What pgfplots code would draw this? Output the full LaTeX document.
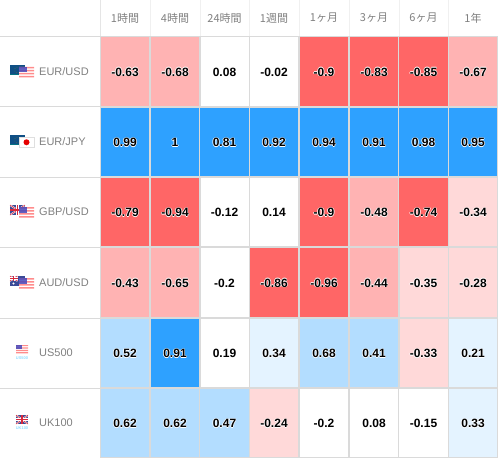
\documentclass[border=0pt]{standalone}
\usepackage{pgfplots}
\pgfplotsset{compat=1.18}
\usepackage{pgfplotstable}
\usepackage{fontspec}
\setmainfont{Liberation Sans}
\newfontfamily\cjk{Noto Sans CJK JP}
\definecolor{cdb}{HTML}{2EA1FF}
\definecolor{clb}{HTML}{B3DDFF}
\definecolor{cvb}{HTML}{E4F3FF}
\definecolor{cdr}{HTML}{FF6666}
\definecolor{clr}{HTML}{FFB3B3}
\definecolor{cvr}{HTML}{FFD9D9}
\definecolor{grid}{HTML}{DADADA}
\definecolor{lab}{HTML}{808080}
\definecolor{eub}{HTML}{0F4F85}
\definecolor{ukb}{HTML}{3A4A96}
\definecolor{ukr}{HTML}{D8283C}
\definecolor{tiny}{HTML}{8FDCFF}
\newcommand\halotext[1]{%
 \makebox[0pt]{\makebox[0pt]{\raisebox{0.7pt}{\color{white}#1}}\makebox[0pt]{\raisebox{-0.7pt}{\color{white}#1}}%
 \hspace{0.7pt}\makebox[0pt]{\color{white}#1}\hspace{-1.4pt}\makebox[0pt]{\color{white}#1}\hspace{0.7pt}%
 \makebox[0pt]{\color{black}#1}}}
\pgfdeclareplotmark{cell}{%
 \pgfpathrectangle{\pgfqpoint{-24.9bp}{-35bp}}{\pgfqpoint{49.8bp}{70bp}}%
 \pgfusepathqfillstroke}
\pgfplotsset{cellplot/.style={
 only marks, mark=cell, draw=grid, fill=#1, mark options={draw=grid,fill=#1,line width=1.2pt},
 point meta=explicit symbolic,
 nodes near coords={\halotext{\fontsize{12bp}{14bp}\selectfont\bfseries\pgfplotspointmeta}},
 nodes near coords align={center},
 every node near coord/.append style={inner sep=0pt,anchor=center,yshift=-0.6bp},
}}
\pgfplotstableread{
x y v
125 71.5 -0.63
175 71.5 -0.68
473 71.5 -0.67
374 212 -0.48
125 282.5 -0.43
175 282.5 -0.65
374 282.5 -0.44
}\lightred
\pgfplotstableread{
x y v
324 71.5 -0.9
374 71.5 -0.83
423.5 71.5 -0.85
125 212 -0.79
175 212 -0.94
324 212 -0.9
423.5 212 -0.74
274 282.5 -0.86
324 282.5 -0.96
}\darkred
\pgfplotstableread{
x y v
473 212 -0.34
423.5 282.5 -0.35
473 282.5 -0.28
423.5 353 -0.33
274 423 -0.24
}\paleblush
\pgfplotstableread{
x y v
125 142 0.99
175 142 1
224.5 142 0.81
274 142 0.92
324 142 0.94
374 142 0.91
423.5 142 0.98
473 142 0.95
175 353 0.91
}\darkblue
\pgfplotstableread{
x y v
125 353 0.52
324 353 0.68
374 353 0.41
125 423 0.62
175 423 0.62
224.5 423 0.47
}\lightblue
\pgfplotstableread{
x y v
274 353 0.34
473 353 0.21
473 423 0.33
}\paleblue
\pgfplotstableread{
x y v
224.5 71.5 0.08
274 71.5 -0.02
224.5 212 -0.12
274 212 0.14
224.5 282.5 -0.2
224.5 353 0.19
324 423 -0.2
374 423 0.08
423.5 423 -0.15
}\whitecells
% flags, drawn in local pixels
\newcommand\flagEU{%
 \fill[eub] (0,0) rectangle (15,10);
 \fill[teal!70!eub] (0,9) rectangle (15,10);
 \draw[olive!70!eub,line width=0.6pt,dotted] (7.5,5) circle (3);}
\newcommand\flagUS{%
 \fill[white] (0,0) rectangle (15,10.5);
 \fill[red!45!white] (0,0) rectangle (15,1.5) (0,3) rectangle (15,4.5) (0,6) rectangle (15,7.5) (0,9) rectangle (15,10.5);
 \fill[blue!45!gray,opacity=.85] (0,0) rectangle (7.5,5.5);}
\newcommand\flagJP{%
 \fill[white] (0,0) rectangle (15,10.5);
 \draw[gray!25,line width=0.5pt] (0,0) rectangle (15,10.5);
 \fill[red!90!black] (7.5,5.25) circle (3);}
\newcommand\flagUK[2]{%
 \fill[ukb] (0,0) rectangle (#1,#2);
 \draw[white,line width=1.6pt] (0,0)--(#1,#2) (0,#2)--(#1,0);
 \draw[ukr,line width=0.6pt] (0,0)--(#1,#2) (0,#2)--(#1,0);
 \draw[white,line width=2.4pt] (#1/2,0)--(#1/2,#2) (0,#2/2)--(#1,#2/2);
 \draw[ukr,line width=1.3pt] (#1/2,0)--(#1/2,#2) (0,#2/2)--(#1,#2/2);}
\newcommand\flagAU{%
 \fill[ukb] (0,0) rectangle (15,10);
 \flagUK{7.5}{5}
 \fill[white] (3.5,7.5) circle (1.1) (11,3) circle (.7) (12.5,6) circle (.7) (10,8) circle (.7);}
\newcommand\flagat[3]{\begin{scope}[shift={(axis cs:#1,#2)},x=1bp,y=-1bp]#3\end{scope}}
\newcommand\headcell[2]{\node[text=lab,inner sep=0pt,font=\cjk\fontsize{11bp}{13bp}\selectfont] at (axis cs:#1,18) {#2};}
\newcommand\rowlab[2]{\node[text=lab,anchor=west,inner sep=0pt,font=\fontsize{11bp}{13bp}\selectfont] at (axis cs:39,#1) {#2};}
\newcommand\tinylab[2]{\node[text=tiny,inner sep=0pt,font=\bfseries\fontsize{4bp}{5bp}\selectfont] at (axis cs:22,#1) {#2};}
\begin{document}
\begin{tikzpicture}
\begin{axis}[
 scale only axis, width=498bp, height=458bp,
 xmin=0, xmax=498, ymin=0, ymax=458, y dir=reverse,
 hide axis, clip=true,
]
\addplot[cellplot=white] table[x=x,y=y,meta=v] {\whitecells};
\addplot[cellplot=cvr] table[x=x,y=y,meta=v] {\paleblush};
\addplot[cellplot=clr] table[x=x,y=y,meta=v] {\lightred};
\addplot[cellplot=cdr] table[x=x,y=y,meta=v] {\darkred};
\addplot[cellplot=cvb] table[x=x,y=y,meta=v] {\paleblue};
\addplot[cellplot=clb] table[x=x,y=y,meta=v] {\lightblue};
\addplot[cellplot=cdb] table[x=x,y=y,meta=v] {\darkblue};
% header and row rules
\draw[grid!70,line width=1pt] (axis cs:100,0)--(axis cs:100,36);
\draw[grid!40,line width=1pt] (axis cs:150,0)--(axis cs:150,36) (axis cs:200,0)--(axis cs:200,36) (axis cs:249.5,0)--(axis cs:249.5,36) (axis cs:299,0)--(axis cs:299,36) (axis cs:349,0)--(axis cs:349,36) (axis cs:399,0)--(axis cs:399,36) (axis cs:448,0)--(axis cs:448,36);
\draw[grid,line width=1pt] (axis cs:0,36)--(axis cs:498,36);
\draw[grid,line width=1pt] (axis cs:0,106.5)--(axis cs:100,106.5) (axis cs:0,177)--(axis cs:100,177) (axis cs:0,247.5)--(axis cs:100,247.5) (axis cs:0,318)--(axis cs:100,318) (axis cs:0,388)--(axis cs:100,388);
% column heads
\headcell{125}{1時間}
\headcell{175}{4時間}
\headcell{224.5}{24時間}
\headcell{274}{1週間}
\headcell{324}{1ヶ月}
\headcell{374}{3ヶ月}
\headcell{423.5}{6ヶ月}
\headcell{473}{1年}
% row labels
\rowlab{72}{EUR/USD}
\rowlab{142}{EUR/JPY}
\rowlab{212}{GBP/USD}
\rowlab{283}{AUD/USD}
\rowlab{353}{US500}
\rowlab{423}{UK100}
% flags
\flagat{10}{65}{\flagEU}
\flagat{19}{67}{\flagUS}
\flagat{10}{135}{\flagEU}
\flagat{19}{137}{\flagJP}
\flagat{10}{205}{\flagUK{15}{10}}
\flagat{19}{207}{\flagUS}
\flagat{10}{276}{\flagAU}
\flagat{19}{278}{\flagUS}
\flagat{16}{345}{\begin{scope}[x=0.8bp,y=-0.8bp]\flagUS\end{scope}}
\flagat{16}{415}{\flagUK{12}{9}}
\tinylab{358}{US500}
\tinylab{428}{UK100}
\end{axis}
\end{tikzpicture}
\end{document}
